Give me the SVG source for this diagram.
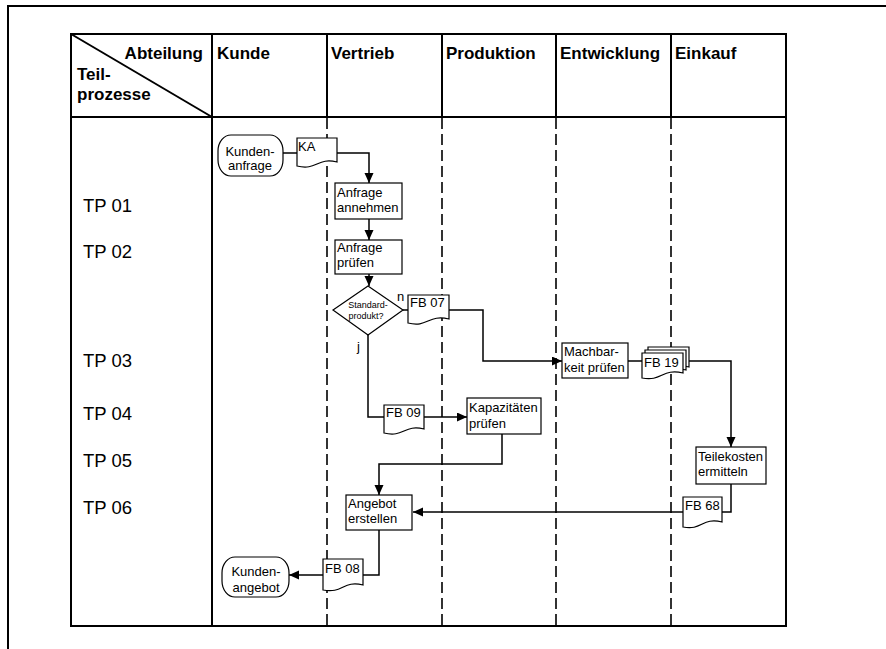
<svg xmlns="http://www.w3.org/2000/svg" width="886" height="649" viewBox="0 0 886 649">
<defs>
<marker id="ah" markerUnits="userSpaceOnUse" markerWidth="10" markerHeight="10" refX="10" refY="4.5" orient="auto">
<path d="M0,0 L10,4.5 L0,9 z" fill="#000"/>
</marker>
<style>
.frame{fill:none;stroke:#000;stroke-width:2}
.tbl{fill:none;stroke:#000;stroke-width:2}
.dash{fill:none;stroke:#000;stroke-width:1.6;stroke-dasharray:11,5}
.nd{fill:#fff;stroke:#000;stroke-width:1.2}
.cn{fill:none;stroke:#000;stroke-width:1.5}
.ar{marker-end:url(#ah)}
.hd{font-family:"Liberation Sans",Arial,sans-serif;font-size:17px;font-weight:bold;fill:#000}
.tp{font-family:"Liberation Sans",Arial,sans-serif;font-size:18.5px;fill:#000}
.t{font-family:"Liberation Sans",Arial,sans-serif;font-size:13px;fill:#000}
.ts{font-family:"Liberation Sans",Arial,sans-serif;font-size:9px;fill:#000}
</style>
</defs>

<g id="frame">
<path class="frame" d="M8,649 V6 H886"/>
</g>

<g id="table">
<rect class="tbl" x="71" y="34" width="715" height="592"/>
<line class="tbl" x1="71" y1="117" x2="786" y2="117"/>
<line class="tbl" x1="212" y1="34" x2="212" y2="626"/>
<line class="tbl" x1="71" y1="34" x2="212" y2="117" stroke-width="1.5"/>
<line class="tbl" x1="327" y1="34" x2="327" y2="117"/>
<line class="tbl" x1="442" y1="34" x2="442" y2="117"/>
<line class="tbl" x1="556" y1="34" x2="556" y2="117"/>
<line class="tbl" x1="671" y1="34" x2="671" y2="117"/>
<line class="dash" x1="327" y1="118" x2="327" y2="625"/>
<line class="dash" x1="442" y1="118" x2="442" y2="625"/>
<line class="dash" x1="556" y1="118" x2="556" y2="625"/>
<line class="dash" x1="671" y1="118" x2="671" y2="625"/>
<text class="hd" x="203" y="59" text-anchor="end">Abteilung</text>
<text class="hd" x="77" y="80">Teil-</text>
<text class="hd" x="77" y="100">prozesse</text>
<text class="hd" x="217" y="59">Kunde</text>
<text class="hd" x="331" y="59">Vertrieb</text>
<text class="hd" x="446" y="59">Produktion</text>
<text class="hd" x="560" y="59">Entwicklung</text>
<text class="hd" x="675" y="59">Einkauf</text>
<text class="tp" x="83" y="212">TP 01</text>
<text class="tp" x="83" y="258">TP 02</text>
<text class="tp" x="83" y="367">TP 03</text>
<text class="tp" x="83" y="420">TP 04</text>
<text class="tp" x="83" y="467">TP 05</text>
<text class="tp" x="83" y="514">TP 06</text>
</g>

<g id="connectors">
<path class="cn" d="M283,153 H297"/>
<path class="cn ar" d="M337,153 H369 V183"/>
<path class="cn ar" d="M369,219 V240"/>
<path class="cn ar" d="M369,274 V286"/>
<path class="cn" d="M403,310 H408"/>
<path class="cn ar" d="M449,310 H483 V361 H562"/>
<path class="cn" d="M368,335 V417 H384"/>
<path class="cn ar" d="M424,417 H467"/>
<path class="cn ar" d="M502,434 V464 H379 V495"/>
<path class="cn" d="M628,361 H642"/>
<path class="cn ar" d="M689,361 H731 V447"/>
<path class="cn" d="M731,484 V512 H722"/>
<path class="cn ar" d="M683,512 H413"/>
<path class="cn" d="M379,530 V575 H363"/>
<path class="cn ar" d="M323,575 H289"/>
<text class="t" x="397" y="301">n</text>
<text class="t" x="357" y="351">j</text>
</g>

<g id="kundenanfrage">
<rect class="nd" x="218" y="135" width="65" height="41" rx="13" ry="16"/>
<text class="t" x="250" y="156" text-anchor="middle">Kunden-</text>
<text class="t" x="250" y="170" text-anchor="middle">anfrage</text>
</g>

<g id="ka">
<path class="nd" d="M297,138 H337 V162 C317,157 317,171 297,166 Z"/>
<text class="t" x="298" y="151">KA</text>
</g>

<g id="anfrage-annehmen">
<rect class="nd" x="335" y="183" width="67" height="36"/>
<text class="t" x="337" y="197">Anfrage</text>
<text class="t" x="337" y="212">annehmen</text>
</g>

<g id="anfrage-pruefen">
<rect class="nd" x="335" y="240" width="67" height="34"/>
<text class="t" x="337" y="252">Anfrage</text>
<text class="t" x="337" y="267">prüfen</text>
</g>

<g id="standardprodukt">
<polygon class="nd" points="368,286 403,310 368,335 333,310"/>
<text class="ts" x="368" y="308" text-anchor="middle">Standard-</text>
<text class="ts" x="366" y="319" text-anchor="middle">produkt?</text>
</g>

<g id="fb07">
<path class="nd" d="M408,295 H449 V319 C428,314 428,328 408,323 Z"/>
<text class="t" x="410" y="307">FB 07</text>
</g>

<g id="fb09">
<path class="nd" d="M384,405 H424 V429 C404,424 404,438 384,433 Z"/>
<text class="t" x="386" y="417">FB 09</text>
</g>

<g id="kapazitaeten">
<rect class="nd" x="467" y="398" width="74" height="36"/>
<text class="t" x="469" y="412">Kapazitäten</text>
<text class="t" x="469" y="428">prüfen</text>
</g>

<g id="machbarkeit">
<rect class="nd" x="562" y="343" width="66" height="35"/>
<text class="t" x="564" y="356">Machbar-</text>
<text class="t" x="564" y="372">keit prüfen</text>
</g>

<g id="fb19">
<path class="nd" d="M648,347 H689 V367 C668,362 668,376 648,371 Z"/>
<path class="nd" d="M645,350 H686 V370 C665,365 665,379 645,374 Z"/>
<path class="nd" d="M642,353 H683 V373 C662,368 662,382 642,378 Z"/>
<text class="t" x="644" y="367">FB 19</text>
</g>

<g id="teilekosten">
<rect class="nd" x="696" y="447" width="70" height="37"/>
<text class="t" x="698" y="461">Teilekosten</text>
<text class="t" x="698" y="476">ermitteln</text>
</g>

<g id="fb68">
<path class="nd" d="M683,497 H722 V522 C702,517 702,531 683,527 Z"/>
<text class="t" x="685" y="510">FB 68</text>
</g>

<g id="angebot-erstellen">
<rect class="nd" x="346" y="495" width="66" height="35"/>
<text class="t" x="348" y="508">Angebot</text>
<text class="t" x="348" y="523">erstellen</text>
</g>

<g id="fb08">
<path class="nd" d="M323,559 H363 V585 C343,580 343,594 323,590 Z"/>
<text class="t" x="325" y="573">FB 08</text>
</g>

<g id="kundenangebot">
<rect class="nd" x="222" y="557" width="67" height="40" rx="13" ry="16"/>
<text class="t" x="256" y="576" text-anchor="middle">Kunden-</text>
<text class="t" x="256" y="592" text-anchor="middle">angebot</text>
</g>
</svg>
